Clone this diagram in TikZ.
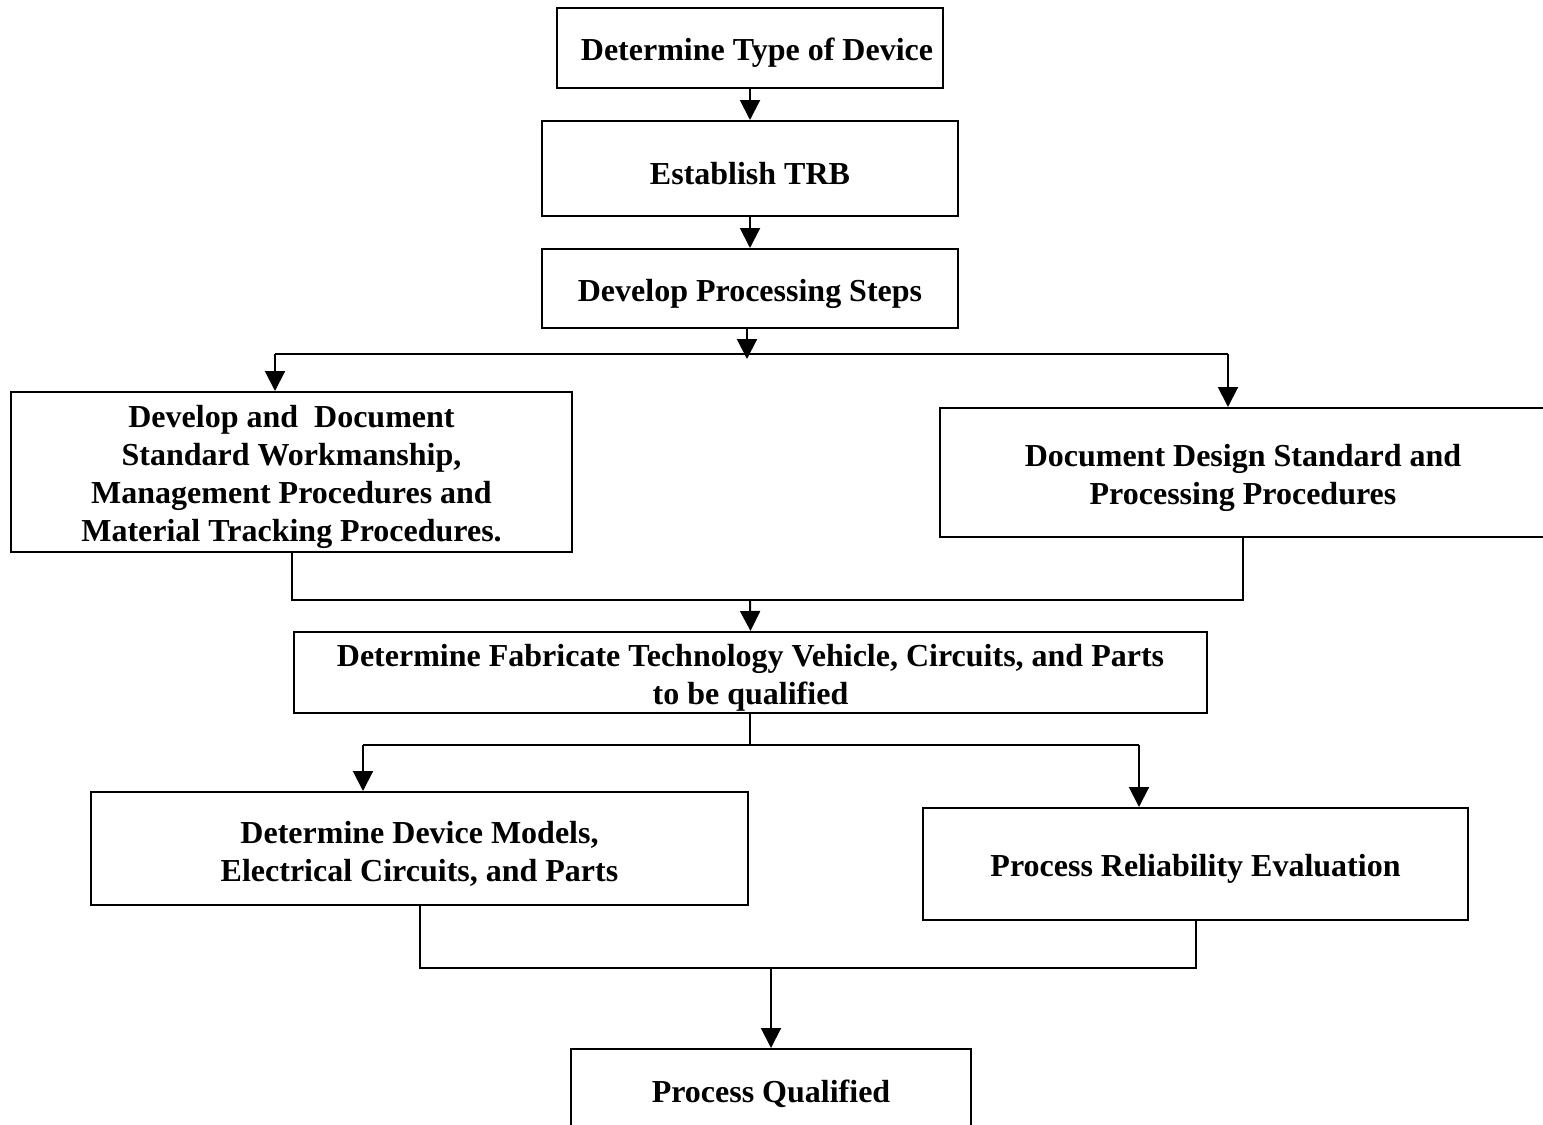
\documentclass[tikz,border=0pt]{standalone}
\usepackage{fontspec}
\setmainfont{Liberation Serif}
\usetikzlibrary{arrows.meta}
\tikzset{
  box/.style={draw, line width=2pt, rectangle, inner sep=0pt},
  txt/.style={inner sep=0pt, align=center, yshift=-5pt,
    font=\fontsize{32}{38}\selectfont\bfseries},
  link/.style={line width=2pt},
  arr/.style={link, -{Triangle[width=20pt,length=20pt]}},
}
\begin{document}
\begin{tikzpicture}[x=1pt,y=-1pt]
\useasboundingbox (0,0) rectangle (1543,1125);
\node[box, minimum width=386, minimum height=80, label={[txt]center:\hspace*{14pt}Determine Type of Device}] (b1) at (750,48) {};
\node[box, minimum width=416, minimum height=95, label={[txt]center:Establish TRB}] (b2) at (750,168.5) {};
\node[box, minimum width=416, minimum height=79, label={[txt]center:Develop Processing Steps}] (b3) at (750,288.5) {};
\node[box, minimum width=561, minimum height=160, label={[txt]center:{Develop and\ \ Document\\Standard Workmanship,\\Management Procedures and\\Material Tracking Procedures.}}] (b4) at (291.5,472) {};
\node[box, minimum width=606, minimum height=129, label={[txt]center:{Document Design Standard and\\Processing Procedures}}] (b5) at (1243,472.5) {};
\node[box, minimum width=913, minimum height=81, label={[txt]center:{Determine Fabricate Technology Vehicle, Circuits, and Parts\\to be qualified}}] (b6) at (750.5,672.5) {};
\node[box, minimum width=657, minimum height=113, label={[txt]center:{Determine Device Models,\\Electrical Circuits, and Parts}}] (b7) at (419.5,848.5) {};
\node[box, minimum width=545, minimum height=112, label={[txt]center:Process Reliability Evaluation}] (b8) at (1195.5,864) {};
\node[box, minimum width=400, minimum height=80, label={[txt]center:Process Qualified}] (b9) at (771,1089) {};

\draw[arr] (b1.south) -- (b2.north);
\draw[arr] (b2.south) -- (b3.north);

\coordinate (j1) at (747,359);
\coordinate (s1l) at (275,354);
\coordinate (s1r) at (1228,354);
\draw[arr] (b3.south -| j1) -- (j1);
\draw[link] (s1l) -- (s1r);
\draw[arr] (s1l) -- (s1l |- b4.north);
\draw[arr] (s1r) -- (s1r |- b5.north);

\coordinate (m1) at (750,600);
\draw[link] (b4.south) |- (m1) -| (b5.south);
\draw[arr] (m1) -- (b6.north);

\coordinate (s2) at (750,745);
\coordinate (s2l) at (363,745);
\coordinate (s2r) at (1139,745);
\draw[link] (b6.south -| s2) -- (s2);
\draw[link] (s2l) -- (s2r);
\draw[arr] (s2l) -- (s2l |- b7.north);
\draw[arr] (s2r) -- (s2r |- b8.north);

\coordinate (m2) at (771,968);
\draw[link] (b7.south) |- (m2) -| (b8.south);
\draw[arr] (m2) -- (b9.north);
\end{tikzpicture}
\end{document}
